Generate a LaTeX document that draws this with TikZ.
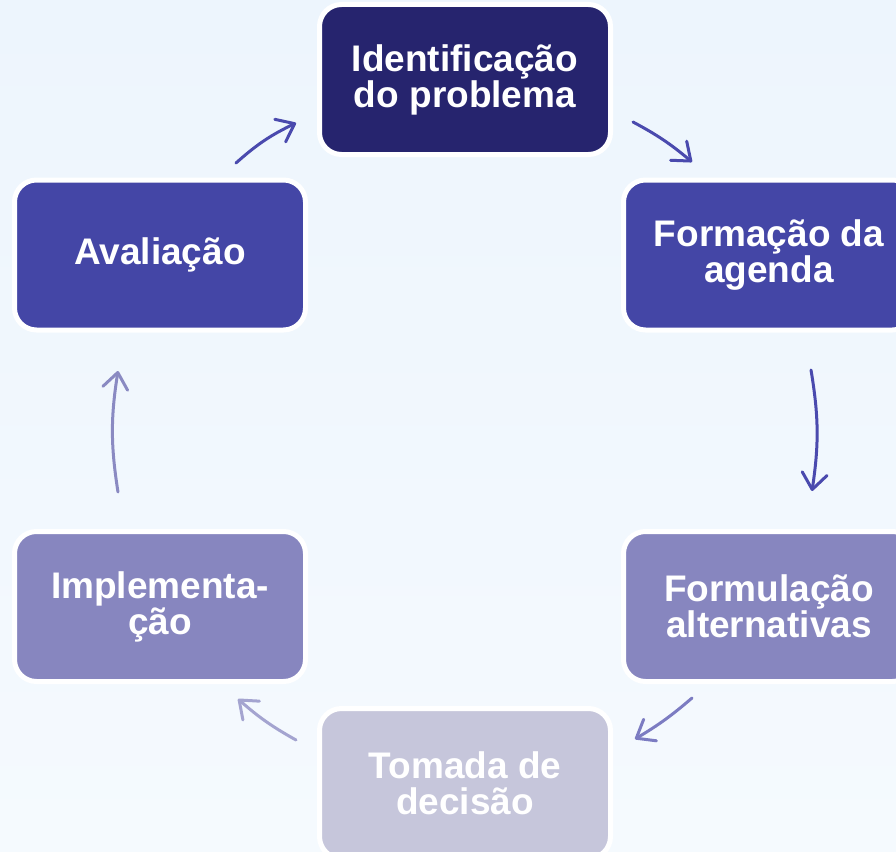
\documentclass[tikz,border=0pt]{standalone}
\usepackage{fontspec}
\setmainfont{Liberation Sans}
\usetikzlibrary{arrows.meta}
\definecolor{bgtop}{HTML}{EDF5FD}
\definecolor{bgbot}{HTML}{F5FAFE}
\definecolor{cA}{HTML}{26246E}
\definecolor{cB}{HTML}{4446A6}
\definecolor{cC}{HTML}{8786BF}
\definecolor{cD}{HTML}{C6C6DB}
\definecolor{aA}{HTML}{4A4AAE}
\definecolor{aB}{HTML}{7C7CC2}
\definecolor{aC}{HTML}{A4A4D0}
\definecolor{aD}{HTML}{8A8AC2}
\tikzset{
  stage/.style={draw=white, line width=5pt, rounded corners=22pt,
    minimum width=291pt, minimum height=150pt, text=white,
    align=center, font=\bfseries\fontsize{37}{36}\selectfont},
  conn/.style={line width=3pt, line cap=round,
    -{Straight Barb[length=16pt,width=25pt,line cap=round,line join=round]}},
}
\begin{document}
\begin{tikzpicture}[x=1pt,y=-1pt]
\useasboundingbox (0,0) rectangle (896,851);
\clip (0,0) rectangle (896,851);
\shade[top color=bgtop, bottom color=bgbot] (0,0) rectangle (896,851);

\node[stage, fill=cA] (idp) at (465,79.5) {Identificação\\do problema};
\node[stage, fill=cB] (fda) at (769,255) {Formação da\\agenda};
\node[stage, fill=cC] (fal) at (769,606.5) {Formulação\\alternativas};
\node[stage, fill=cD] (tom) at (465,783.5) {Tomada de\\decisão};
\node[stage, fill=cC] (imp) at (160,606.5) {Implementa-\\ção};
\node[stage, fill=cB] (ava) at (160,255) {Avaliação};

\coordinate (s1) at (236,163);  \coordinate (e1) at (296,123);
\coordinate (s2) at (633,122);  \coordinate (e2) at (692,162);
\coordinate (s3) at (811,370);  \coordinate (e3) at (812,491);
\coordinate (s4) at (692,698);  \coordinate (e4) at (635,739);
\coordinate (s5) at (296,740);  \coordinate (e5) at (238,699);
\coordinate (s6) at (118,492);  \coordinate (e6) at (118,371);

\draw[conn, draw=aA] (s1) to[bend left=8] (e1);
\draw[conn, draw=aA] (s2) to[bend left=6] (e2);
\draw[conn, draw=aA] (s3) to[bend left=9] (e3);
\draw[conn, draw=aB] (s4) to[bend left=5] (e4);
\draw[conn, draw=aC] (s5) to[bend left=6] (e5);
\draw[conn, draw=aD] (s6) to[bend left=9] (e6);
\end{tikzpicture}
\end{document}
